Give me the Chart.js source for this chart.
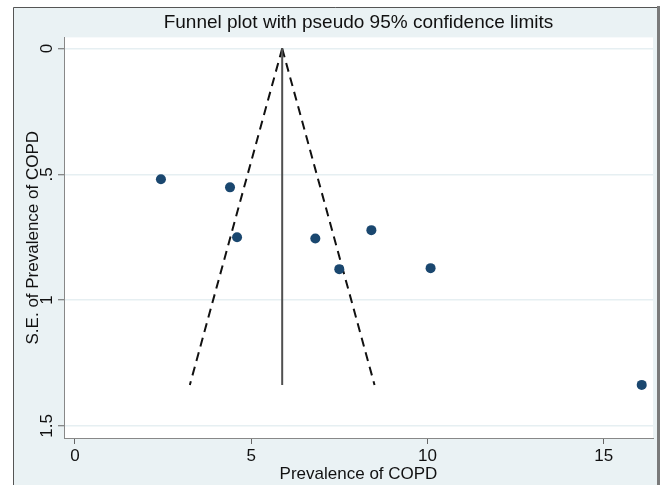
<!DOCTYPE html>
<html><head><meta charset="utf-8">
<script src="https://cdn.jsdelivr.net/npm/chart.js@4/dist/chart.umd.min.js"></script>
<style>html,body{margin:0;padding:0;background:#fff;}#wrap{width:661px;height:485px;}</style>
</head><body><div id="wrap"><canvas id="c" width="661" height="485"></canvas></div>
<script>
// Study estimates (prevalence of COPD, %) and their standard errors
const studyPrevalence = [2.44, 4.40, 4.60, 6.82, 7.50, 8.41, 10.09, 16.08];
const studySE = [0.52, 0.552, 0.75, 0.755, 0.877, 0.722, 0.873, 1.337];
// Pooled estimate line and pseudo 95% confidence limits
const pooledX = [5.88, 5.88];
const lowerLimitX = [5.88, 3.26];
const upperLimitX = [5.88, 8.50];
const limitSE = [0, 1.337];
// Tick values and labels
const xTicks = [0, 5, 10, 15];
const xTickLabels = ['0', '5', '10', '15'];
const yTicks = [0, 0.5, 1, 1.5];
const yTickLabels = ['0', '.5', '1', '1.5'];

const FONT = '"Liberation Sans", Arial, Helvetica, sans-serif';
const toPts = (xs, ys) => xs.map((x, i) => ({x: x, y: ys[i]}));

const framePlugin = {
  id: 'frame',
  beforeDraw(chart) {
    const ctx = chart.ctx, a = chart.chartArea;
    ctx.save();
    ctx.fillStyle = '#ffffff';
    ctx.fillRect(0, 0, chart.width, chart.height);
    ctx.fillStyle = '#eaf2f4';
    ctx.fillRect(13, 7, 645, chart.height);
    ctx.strokeStyle = '#555';
    ctx.lineWidth = 1;
    ctx.beginPath();
    ctx.moveTo(13.5, chart.height); ctx.lineTo(13.5, 7.5); ctx.lineTo(658, 7.5);
    ctx.stroke();
    ctx.strokeStyle = '#7a7a7a';
    ctx.lineWidth = 3;
    ctx.beginPath();
    ctx.moveTo(658.5, 6); ctx.lineTo(658.5, chart.height);
    ctx.stroke();
    ctx.fillStyle = '#ffffff';
    ctx.fillRect(a.left, a.top, a.right - a.left, a.bottom - a.top);
    ctx.restore();
  },
  afterDraw(chart) {
    const ctx = chart.ctx, ys = chart.scales.y;
    ctx.save();
    ctx.fillStyle = '#111';
    ctx.font = '17px ' + FONT;
    ctx.textAlign = 'center';
    ctx.textBaseline = 'middle';
    yTicks.forEach((v, i) => {
      const p = ys.getPixelForValue(v);
      ctx.save();
      ctx.translate(47, p);
      ctx.rotate(-Math.PI / 2);
      ctx.fillText(yTickLabels[i], 0, 0);
      ctx.restore();
    });
    ctx.restore();
  }
};

new Chart(document.getElementById('c'), {
  type: 'scatter',
  data: {
    datasets: [
      {label: 'Studies', data: toPts(studyPrevalence, studySE), showLine: false,
       backgroundColor: '#1a476f', borderColor: '#1a476f', pointRadius: 5, borderWidth: 0, order: 0},
      {label: 'Pooled', data: toPts(pooledX, limitSE), showLine: true, pointRadius: 0,
       borderColor: '#505050', borderWidth: 2, order: 1},
      {label: 'Lower', data: toPts(lowerLimitX, limitSE), showLine: true, pointRadius: 0,
       borderColor: '#111', borderWidth: 2, borderDash: [9, 6], order: 2},
      {label: 'Upper', data: toPts(upperLimitX, limitSE), showLine: true, pointRadius: 0,
       borderColor: '#111', borderWidth: 2, borderDash: [9, 6], order: 3}
    ]
  },
  options: {
    responsive: false,
    animation: false,
    events: [],
    layout: {padding: {left: 13, right: 8, top: 7, bottom: 0}},
    plugins: {
      legend: {display: false},
      tooltip: {enabled: false},
      title: {display: true, text: 'Funnel plot with pseudo 95% confidence limits', fullSize: false,
        color: '#111', font: {family: FONT, size: 19, weight: 'normal'}, padding: {top: 4, bottom: 3.6}}
    },
    scales: {
      x: {
        type: 'linear', min: -0.31, max: 16.4,
        afterBuildTicks: s => { s.ticks = xTicks.map(v => ({value: v})); },
        afterFit: s => { s.height = 47; },
        ticks: {color: '#111', font: {family: FONT, size: 17}, padding: 2, maxRotation: 0,
          callback: (v) => xTickLabels[xTicks.indexOf(v)]},
        grid: {drawOnChartArea: false, tickLength: 6, tickColor: '#666', tickWidth: 1},
        border: {color: '#888', width: 1},
        title: {display: true, text: 'Prevalence of COPD', color: '#111',
          font: {family: FONT, size: 17}, padding: {top: 0, bottom: 0}}
      },
      y: {
        type: 'linear', reverse: true, min: -0.044, max: 1.548,
        afterBuildTicks: s => { s.ticks = yTicks.map(v => ({value: v})); },
        afterFit: s => { s.width = 51; },
        ticks: {color: 'rgba(0,0,0,0)', font: {family: FONT, size: 17}, padding: 2,
          callback: (v) => yTickLabels[yTicks.indexOf(v)]},
        grid: {color: '#e6eff2', lineWidth: 1.5, tickLength: 6, tickColor: '#666', tickWidth: 1},
        border: {color: '#888', width: 1},
        title: {display: true, text: 'S.E. of Prevalence of COPD', color: '#111',
          font: {family: FONT, size: 17}, padding: {top: 10, bottom: 0}}
      }
    }
  },
  plugins: [framePlugin]
});
</script></body></html>
